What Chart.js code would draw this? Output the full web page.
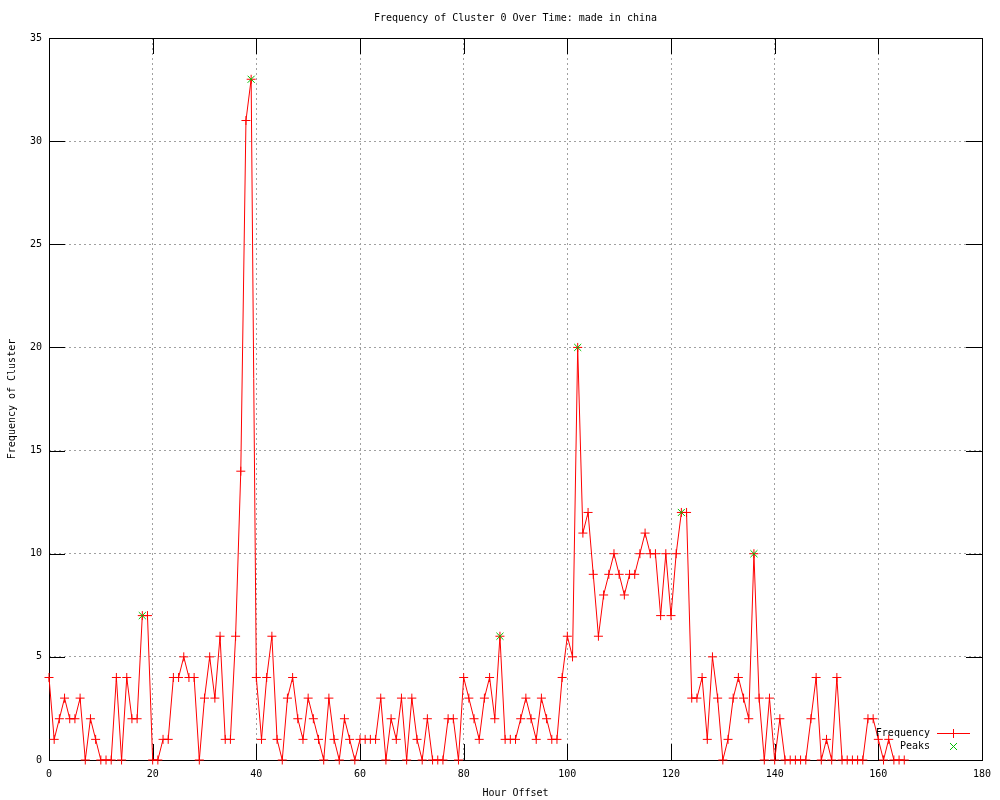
<!DOCTYPE html>
<html>
<head>
<meta charset="utf-8">
<title>Frequency of Cluster 0 Over Time</title>
<script src="https://cdn.jsdelivr.net/npm/chart.js@4.4.1/dist/chart.umd.min.js"></script>
<style>
  html, body { margin: 0; padding: 0; background: #fff; }
  canvas { display: block; }
</style>
</head>
<body>
<canvas id="chart" width="1000" height="800"></canvas>
<script>
// one value per hour, starting at hour 0
const firstHour = 0;
const frequency = [
    4, 1, 2, 3, 2, 2, 3, 0, 2, 1,
    0, 0, 0, 4, 0, 4, 2, 2, 7, 7,
    0, 0, 1, 1, 4, 4, 5, 4, 4, 0,
    3, 5, 3, 6, 1, 1, 6, 14, 31, 33,
    4, 1, 4, 6, 1, 0, 3, 4, 2, 1,
    3, 2, 1, 0, 3, 1, 0, 2, 1, 0,
    1, 1, 1, 1, 3, 0, 2, 1, 3, 0,
    3, 1, 0, 2, 0, 0, 0, 2, 2, 0,
    4, 3, 2, 1, 3, 4, 2, 6, 1, 1,
    1, 2, 3, 2, 1, 3, 2, 1, 1, 4,
    6, 5, 20, 11, 12, 9, 6, 8, 9, 10,
    9, 8, 9, 9, 10, 11, 10, 10, 7, 10,
    7, 10, 12, 12, 3, 3, 4, 1, 5, 3,
    0, 1, 3, 4, 3, 2, 10, 3, 0, 3,
    0, 2, 0, 0, 0, 0, 0, 2, 4, 0,
    1, 0, 4, 0, 0, 0, 0, 0, 2, 2,
    1, 0, 1, 0, 0, 0
];

const peakHours = [18, 39, 87, 102, 122, 136];
const peakValues = [7, 33, 6, 20, 12, 10];

const xTicks = [0, 20, 40, 60, 80, 100, 120, 140, 160, 180];
const yTicks = [0, 5, 10, 15, 20, 25, 30, 35];

const FONT = '"DejaVu Sans Mono", "Liberation Mono", monospace';
const RED = '#ff0000';
const GREEN = '#00c000';

// what the key shows for each series, top to bottom
const keyEntries = [
    {label: 'Frequency', color: RED, line: true, mark: 'plus'},
    {label: 'Peaks', color: GREEN, line: false, mark: 'x'}
];

// gnuplot style frame: solid border with ticks pointing inwards on all sides
const gnuplotFrame = {
    id: 'gnuplotFrame',
    afterLayout(chart) {
        // gnuplot centres the title over the plot area, not the canvas
        const t = chart.titleBlock;
        if (t) {
            t.left = chart.chartArea.left;
            t.right = chart.chartArea.right;
            t.width = t.right - t.left;
        }
    },
    beforeDatasetsDraw(chart) {
        const {ctx, chartArea: a, scales: {x, y}} = chart;
        const tick = 16;
        ctx.save();
        ctx.strokeStyle = '#000';
        ctx.lineWidth = 1;
        ctx.beginPath();
        xTicks.forEach(v => {
            const px = Math.round(x.getPixelForValue(v)) + 0.5;
            ctx.moveTo(px, a.bottom);
            ctx.lineTo(px, a.bottom - tick);
            ctx.moveTo(px, a.top);
            ctx.lineTo(px, a.top + tick);
        });
        yTicks.forEach(v => {
            const py = Math.round(y.getPixelForValue(v)) + 0.5;
            ctx.moveTo(a.left, py);
            ctx.lineTo(a.left + tick, py);
            ctx.moveTo(a.right, py);
            ctx.lineTo(a.right - tick, py);
        });
        ctx.stroke();
        ctx.strokeRect(Math.round(a.left) + 0.5, Math.round(a.top) + 0.5,
            Math.round(a.right - a.left), Math.round(a.bottom - a.top));
        ctx.restore();
    }
};

// key sits inside the plot, bottom right, text before the sample
const insideKey = {
    id: 'insideKey',
    afterDraw(chart) {
        const {ctx, chartArea: a} = chart;
        ctx.save();
        ctx.font = '10px ' + FONT;
        ctx.textAlign = 'right';
        ctx.textBaseline = 'middle';
        ctx.lineWidth = 1;
        keyEntries.forEach((k, i) => {
            const yy = Math.round(a.bottom - 27 + i * 12.5);
            const mx = Math.round(a.right - 29);
            ctx.fillStyle = '#000';
            ctx.fillText(k.label, a.right - 52, yy);
            ctx.fillStyle = k.color;
            if (k.line) {
                ctx.fillRect(Math.round(a.right - 45), yy, 33, 1);
            }
            if (k.mark === 'plus') {
                ctx.fillRect(mx, yy - 4, 1, 9);
                ctx.fillRect(mx - 4, yy, 9, 1);
            } else {
                ctx.strokeStyle = k.color;
                ctx.beginPath();
                ctx.moveTo(mx - 3, yy - 3);
                ctx.lineTo(mx + 4, yy + 4);
                ctx.moveTo(mx - 3, yy + 4);
                ctx.lineTo(mx + 4, yy - 3);
                ctx.stroke();
            }
        });
        ctx.restore();
    }
};

new Chart(document.getElementById('chart'), {
    type: 'line',
    data: {
        datasets: [{
            label: 'Frequency',
            data: frequency.map((v, i) => ({x: firstHour + i, y: v})),
            borderColor: RED,
            backgroundColor: RED,
            borderWidth: 1,
            tension: 0,
            pointStyle: 'cross',
            pointRadius: 4.5,
            pointBorderWidth: 1,
            pointBorderColor: RED,
            clip: false,
            order: 1
        }, {
            label: 'Peaks',
            data: peakHours.map((h, i) => ({x: h, y: peakValues[i]})),
            showLine: false,
            borderColor: GREEN,
            backgroundColor: GREEN,
            pointStyle: 'crossRot',
            pointRadius: 5,
            pointBorderWidth: 1,
            pointBorderColor: GREEN,
            clip: false,
            order: 0
        }]
    },
    options: {
        responsive: false,
        animation: false,
        layout: {padding: {left: 0, right: 18, top: 0, bottom: 0}},
        scales: {
            x: {
                type: 'linear',
                min: 0,
                max: 180,
                afterBuildTicks: s => { s.ticks = xTicks.map(v => ({value: v})); },
                afterFit: s => { s.height = 40; },
                grid: {color: '#a0a0a0', lineWidth: 1, drawTicks: false},
                border: {display: false, dash: [2, 3]},
                ticks: {
                    color: '#000',
                    padding: 8,
                    maxRotation: 0,
                    font: {family: FONT, size: 10}
                },
                title: {
                    display: true,
                    text: 'Hour Offset',
                    color: '#000',
                    padding: {top: 0, bottom: 1},
                    font: {family: FONT, size: 10}
                }
            },
            y: {
                type: 'linear',
                min: 0,
                max: 35,
                afterBuildTicks: s => { s.ticks = yTicks.map(v => ({value: v})); },
                afterFit: s => { s.width = 49; },
                grid: {color: '#a0a0a0', lineWidth: 1, drawTicks: false},
                border: {display: false, dash: [2, 3]},
                ticks: {
                    color: '#000',
                    padding: 7,
                    font: {family: FONT, size: 10}
                },
                title: {
                    display: true,
                    text: 'Frequency of Cluster',
                    color: '#000',
                    padding: {top: 6, bottom: 0},
                    font: {family: FONT, size: 10}
                }
            }
        },
        plugins: {
            legend: {display: false},
            tooltip: {enabled: false},
            title: {
                display: true,
                text: 'Frequency of Cluster 0 Over Time: made in china',
                color: '#000',
                padding: {top: 12, bottom: 14},
                font: {family: FONT, size: 10, weight: 'normal'}
            }
        }
    },
    plugins: [gnuplotFrame, insideKey]
});
</script>
</body>
</html>
